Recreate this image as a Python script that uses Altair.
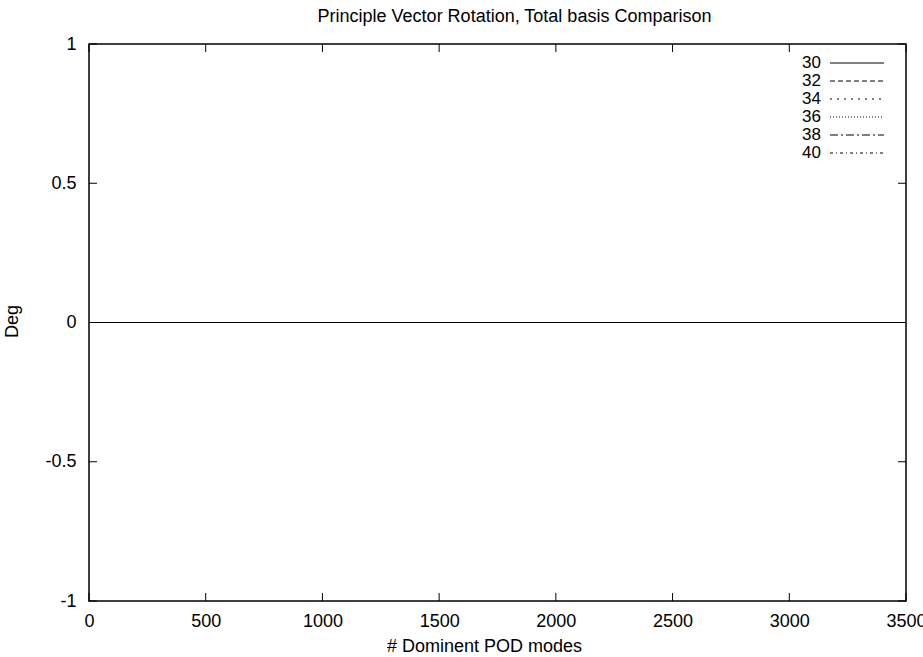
import altair as alt
import pandas as pd

# Rotation angle (deg) of the principal vectors vs. number of dominant POD modes
series_names = ["30", "32", "34", "36", "38", "40"]
modes = [0, 500, 1000, 1500, 2000, 2500, 3000, 3500]
rot_30 = [0, 0, 0, 0, 0, 0, 0, 0]
rot_32 = [0, 0, 0, 0, 0, 0, 0, 0]
rot_34 = [0, 0, 0, 0, 0, 0, 0, 0]
rot_36 = [0, 0, 0, 0, 0, 0, 0, 0]
rot_38 = [0, 0, 0, 0, 0, 0, 0, 0]
rot_40 = [0, 0, 0, 0, 0, 0, 0, 0]

x_ticks = [0, 500, 1000, 1500, 2000, 2500, 3000, 3500]
y_ticks = [-1, -0.5, 0, 0.5, 1]

W, H = 817, 557
FONT = "Liberation Sans"
FS = 18
dashes = [[1, 0], [5, 3], [2, 5], [1, 2], [8, 3, 2, 3], [3, 3, 1, 3]]

rows = []
for name, vals in zip(series_names, [rot_30, rot_32, rot_34, rot_36, rot_38, rot_40]):
    for m, v in zip(modes, vals):
        rows.append({"series": name, "modes": m, "deg": v})
df = pd.DataFrame(rows)

xs = alt.Scale(domain=[0, 3500], nice=False, zero=False)
ys = alt.Scale(domain=[-1, 1], nice=False, zero=False)
dash_scale = alt.Scale(domain=series_names, range=dashes)

lines = alt.Chart(df).mark_line(color="black", strokeWidth=1.2, clip=True).encode(
    x=alt.X("modes:Q", scale=xs,
            axis=alt.Axis(values=x_ticks, title="# Dominent POD modes", ticks=False,
                          domain=False, grid=False, labelPadding=11,
                          labelFlush=False, labelOverlap=False,
                          labelExpr="toString(datum.value)",
                          titleX=395, titleY=45, titleBaseline="middle")),
    y=alt.Y("deg:Q", scale=ys,
            axis=alt.Axis(values=y_ticks, title="Deg", ticks=False, domain=False,
                          grid=False, labelPadding=13, labelFlush=False,
                          labelExpr="toString(datum.value)",
                          titleX=-77, titleY=277, titleAngle=-90,
                          titleBaseline="middle")),
    strokeDash=alt.StrokeDash("series:N", scale=dash_scale, legend=None),
    detail="series:N",
)

# inward tick marks on all four sides
xt = pd.DataFrame({"v": x_ticks})
yt = pd.DataFrame({"v": y_ticks})
tick_len = 8
xb = alt.Chart(xt).mark_rule(color="black", strokeWidth=1).encode(
    x=alt.X("v:Q", scale=xs), y=alt.value(H), y2=alt.value(H - tick_len))
xtop = alt.Chart(xt).mark_rule(color="black", strokeWidth=1).encode(
    x=alt.X("v:Q", scale=xs), y=alt.value(0), y2=alt.value(tick_len))
yl = alt.Chart(yt).mark_rule(color="black", strokeWidth=1).encode(
    y=alt.Y("v:Q", scale=ys), x=alt.value(0), x2=alt.value(tick_len))
yr = alt.Chart(yt).mark_rule(color="black", strokeWidth=1).encode(
    y=alt.Y("v:Q", scale=ys), x=alt.value(W), x2=alt.value(W - tick_len))

# key in the upper right corner: label, then line sample
key = pd.DataFrame({"series": series_names,
                    "ky": [19 + 18 * i for i in range(len(series_names))]})
key_text = alt.Chart(key).mark_text(align="right", baseline="middle", fontSize=17,
                                    font=FONT, color="black").encode(
    x=alt.value(732), y=alt.Y("ky:Q", scale=None), text="series:N")
key_line = alt.Chart(key).mark_rule(color="black", strokeWidth=1).encode(
    x=alt.value(741), x2=alt.value(795), y=alt.Y("ky:Q", scale=None),
    strokeDash=alt.StrokeDash("series:N", scale=dash_scale, legend=None))

chart = alt.layer(lines, xb, xtop, yl, yr, key_line, key_text).properties(
    width=W, height=H,
    title=alt.Title("Principle Vector Rotation, Total basis Comparison",
                    fontSize=FS, fontWeight="normal", font=FONT, color="black",
                    anchor="middle", offset=9, dx=17),
    autosize=alt.AutoSizeParams(type="none"),
    padding={"left": 89, "top": 44, "right": 17, "bottom": 56},
    background="white",
).configure_view(stroke="black", strokeWidth=1.5).configure_axis(
    labelFont=FONT, labelFontSize=FS, labelColor="black",
    titleFont=FONT, titleFontSize=FS, titleFontWeight="normal", titleColor="black",
)

chart.save("out.html", embed_options={"renderer": "svg", "actions": False})
